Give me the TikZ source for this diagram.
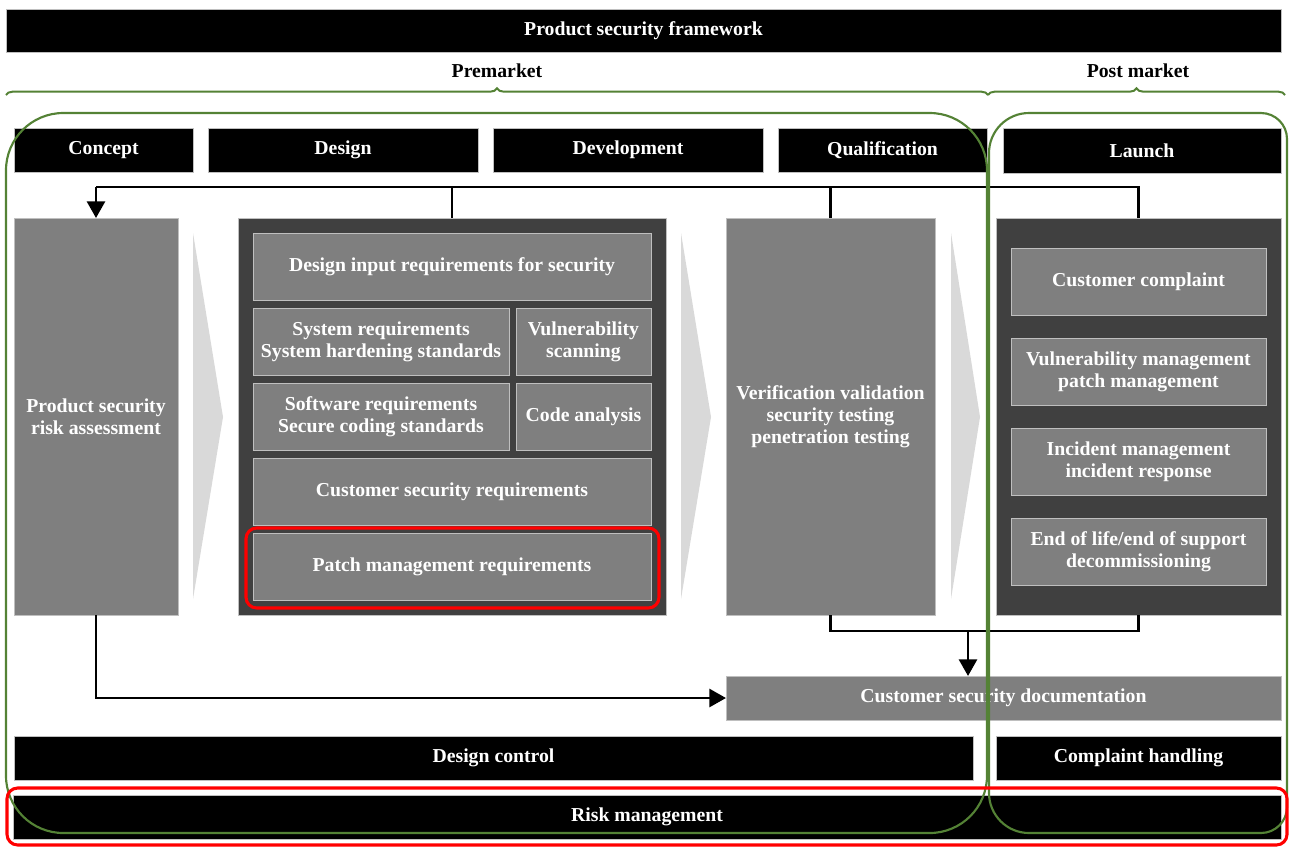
\documentclass[tikz,border=0pt]{standalone}
\usepackage{fontspec}
\setmainfont{Liberation Serif}
\usetikzlibrary{arrows.meta,decorations.pathreplacing}

\definecolor{boxgray}{HTML}{7F7F7F}
\definecolor{panelgray}{HTML}{404040}
\definecolor{chevgray}{HTML}{D9D9D9}
\definecolor{edgegray}{HTML}{BFBFBF}
\definecolor{phasegreen}{HTML}{548235}

% box with its top-left corner at (#2,#3) and bottom-right corner at (#4,#5)
\newcommand\pbox[7]{%
  \node[#6, minimum width={(#4-#2)*0.75pt}, minimum height={(#5-#3)*0.75pt},
        anchor=north west] (#1) at (#2,#3) {#7};}

\begin{document}
\begin{tikzpicture}[x=0.75pt,y=-0.75pt,
  base/.style={inner sep=0pt, outer sep=0pt, align=center, text=white,
    font=\bfseries\fontsize{14.8}{16.5}\selectfont, draw=edgegray, line width=0.5pt},
  blackbar/.style={base, fill=black},
  graybox/.style={base, fill=boxgray},
  panel/.style={base, fill=panelgray},
  chev/.style={fill=chevgray, draw=none},
  label/.style={font=\bfseries\fontsize{14.8}{16.5}\selectfont, text=black, inner sep=0pt},
  flow/.style={line width=2.1pt, draw=black},
  flowarrow/.style={flow, -{Triangle[width=13.5pt,length=12.5pt]}},
  phasebrace/.style={draw=phasegreen, line width=1.5pt, decorate,
    decoration={brace, amplitude=5pt}},
  phase/.style={draw=phasegreen, line width=1.6pt},
  hilite/.style={draw=red, line width=2.3pt, rounded corners=8pt}]

\useasboundingbox (0,0) rectangle (1291,847);
\fill[white] (0,0) rectangle (1291,847);

% title and phase labels
\pbox{title}{6}{9}{1281}{52}{blackbar}{Product security framework}
\node[label] (pre) at (497,71) {Premarket};
\node[label] (postlbl) at (1138,71) {Post market};
\draw[phasebrace] (6,95) -- (988,95);
\draw[phasebrace] (988,95) -- (1285,95);

% stage headers
\pbox{concept}{14}{128}{193}{172}{blackbar}{Concept}
\pbox{design}{208}{128}{478}{172}{blackbar}{Design}
\pbox{develop}{493}{128}{763}{172}{blackbar}{Development}
\pbox{qualif}{778}{128}{987}{172}{blackbar}{Qualification}
\pbox{launch}{1003}{128}{1281}{173}{blackbar}{Launch}

% stage contents
\pbox{psra}{14}{218}{178}{615}{graybox}{Product security\\risk assessment}

\pbox{des}{238}{218}{666}{615}{panel}{}
\pbox{dinput}{253}{233}{651}{300}{graybox}{Design input requirements for security}
\pbox{sysreq}{253}{308}{509}{375}{graybox}{System requirements\\System hardening standards}
\pbox{vulscan}{516}{308}{651}{375}{graybox}{Vulnerability\\scanning}
\pbox{swreq}{253}{383}{509}{450}{graybox}{Software requirements\\Secure coding standards}
\pbox{code}{516}{383}{651}{450}{graybox}{Code analysis}
\pbox{custreq}{253}{458}{651}{525}{graybox}{Customer security requirements}
\pbox{patch}{253}{533}{651}{600}{graybox}{Patch management requirements}

\pbox{ver}{726}{218}{935}{615}{graybox}{Verification validation\\security testing\\penetration testing}

\pbox{post}{996}{218}{1281}{615}{panel}{}
\pbox{complaint}{1011}{248}{1266}{315}{graybox}{Customer complaint}
\pbox{vulman}{1011}{338}{1266}{405}{graybox}{Vulnerability management\\patch management}
\pbox{incident}{1011}{428}{1266}{495}{graybox}{Incident management\\incident response}
\pbox{eol}{1011}{518}{1266}{585}{graybox}{End of life/end of support\\decommissioning}

\pbox{csd}{726}{676}{1281}{720}{graybox}{Customer security documentation}

% flow chevrons between stages
\fill[chev] (193,233) -- (223,417) -- (193,599) -- cycle;
\fill[chev] (681,233) -- (711,417) -- (681,599) -- cycle;
\fill[chev] (951,233) -- (980,417) -- (951,599) -- cycle;

% bottom bars
\pbox{dctrl}{14}{736}{973}{780}{blackbar}{Design control}
\pbox{chand}{996}{736}{1281}{780}{blackbar}{Complaint handling}
\pbox{risk}{13}{795}{1281}{839}{blackbar}{Risk management}

% feedback bus on top
\coordinate (bus) at (1138,187);
\draw[flow] (post.north) -- (post.north |- bus) -- (psra.north |- bus);
\draw[flow] (des.north) -- (des.north |- bus);
\draw[flow] (ver.north) -- (ver.north |- bus);
\draw[flowarrow] (psra.north |- bus) -- (psra.north);

% documentation bus below
\coordinate (lowbus) at (968,631);
\draw[flow] (ver.south) -- (ver.south |- lowbus) -- (post.south |- lowbus) -- (post.south);
\draw[flowarrow] (lowbus) -- (lowbus |- csd.north);
\draw[flowarrow] (psra.south) |- (csd.west);

% phase outlines
\draw[phase, rounded corners=43pt] (6,113) rectangle (987,833);
\draw[phase] (1029,113) -- (1261,113)
  .. controls (1275.35,113) and (1287,124.65) .. (1287,139) -- (1287,807)
  .. controls (1287,821.35) and (1275.35,833) .. (1261,833) -- (1029,833)
  .. controls (1006.9,833) and (989,815.1) .. (989,793) -- (989,153)
  .. controls (989,130.9) and (1006.9,113) .. (1029,113) -- cycle;

% highlights
\draw[hilite] (246,528) rectangle (659,608);
\draw[hilite] (7,788) rectangle (1287,845);
\end{tikzpicture}
\end{document}
